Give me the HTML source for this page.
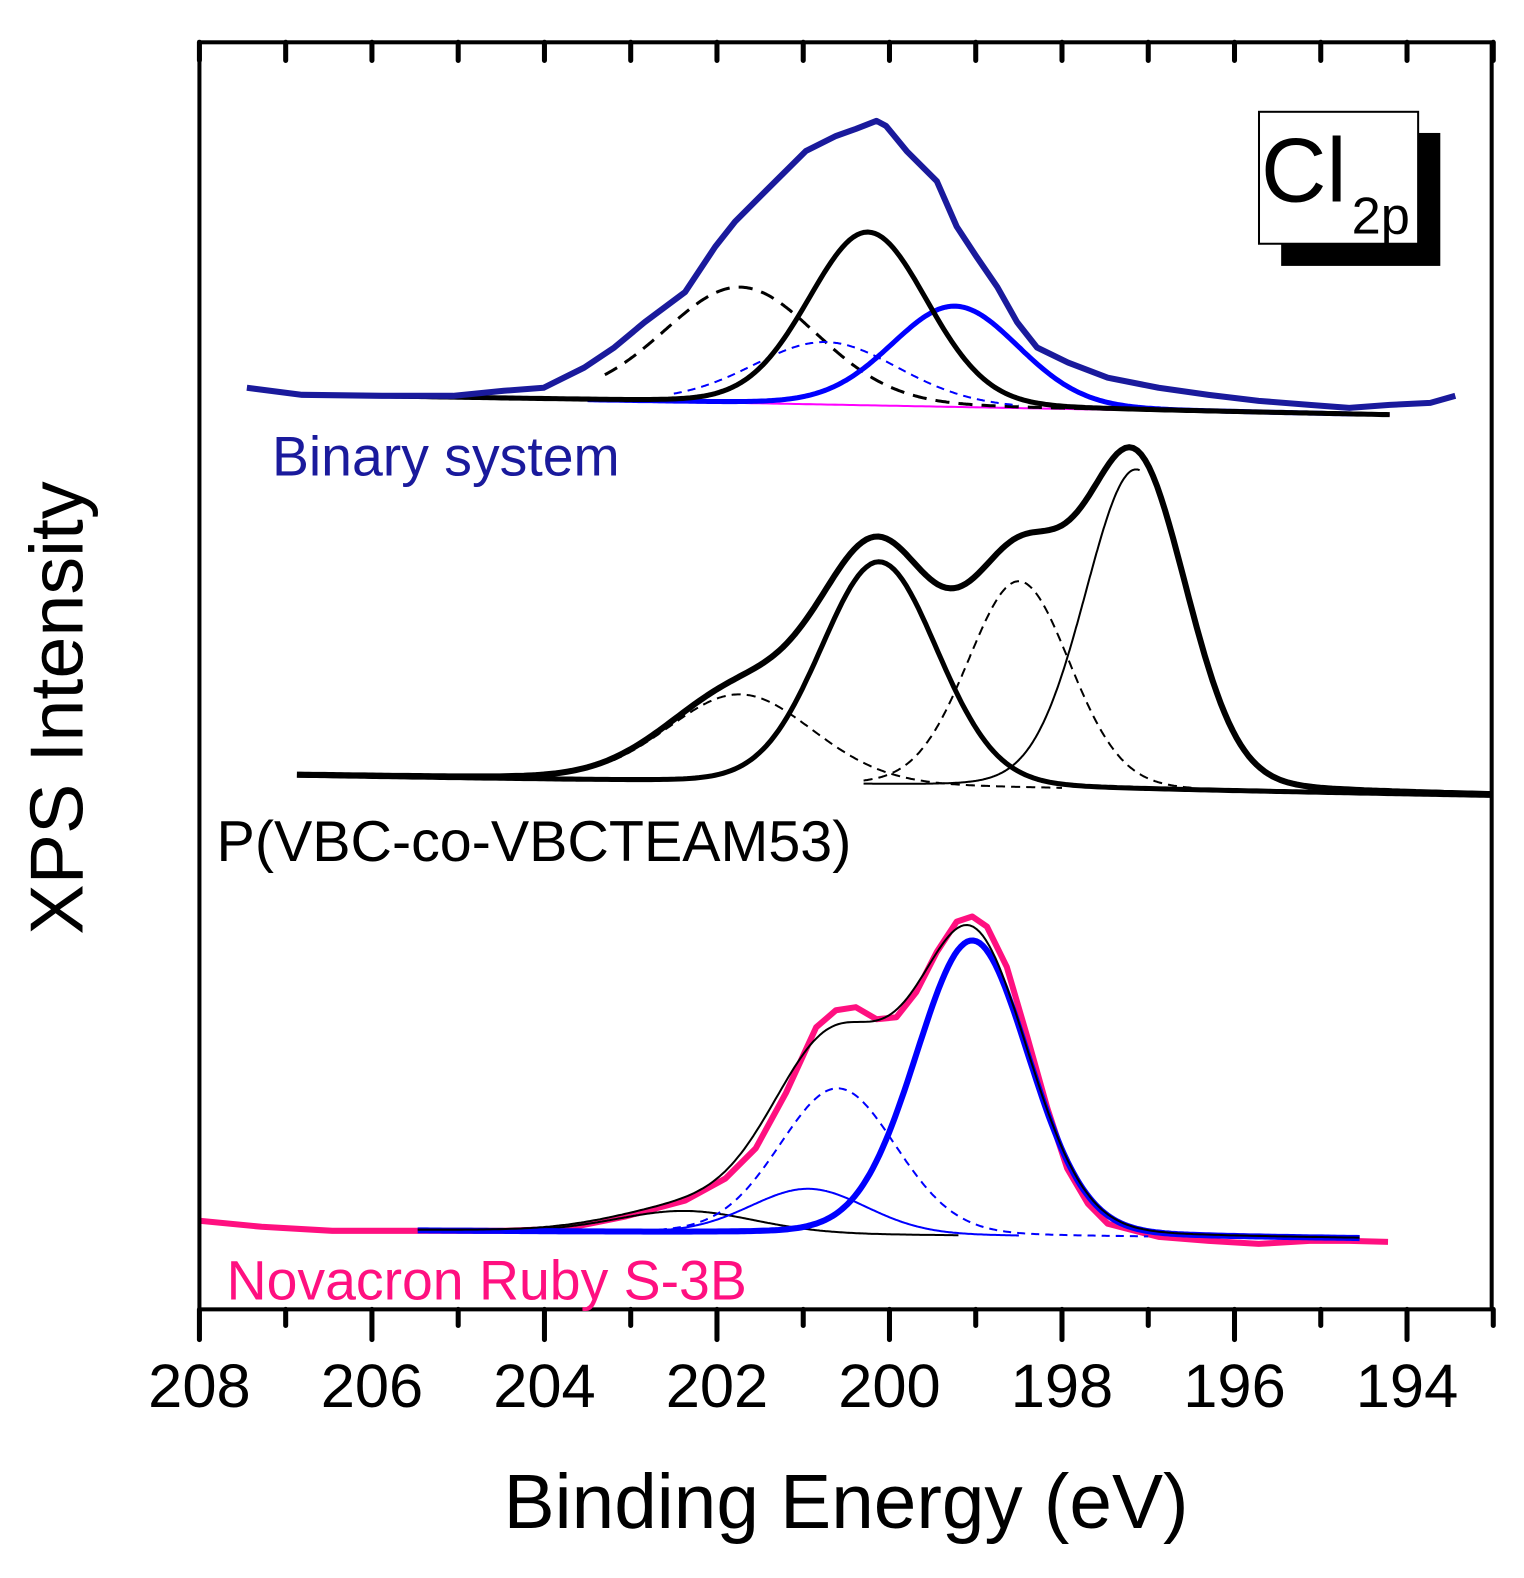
<!DOCTYPE html>
<html><head><meta charset="utf-8"><style>
html,body{margin:0;padding:0;background:#fff;overflow:hidden;width:1524px;height:1578px;}
svg{display:block;font-family:"Liberation Sans",sans-serif;}
</style></head><body>
<svg id="chart" width="1524" height="1578" viewBox="0 0 1524 1578">
<g transform="scale(1.0072)">
<g id="marks"></g>
<rect x="198" y="42" width="1283" height="1258" fill="none" stroke="#000" stroke-width="4"/>
<g id="ticks"></g>
<text x="840" y="1517" text-anchor="middle" font-size="76">Binding Energy (eV)</text>
<text transform="translate(82,703) rotate(-90)" text-anchor="middle" font-size="75">XPS Intensity</text>
<text x="270" y="472" font-size="55" fill="#1a1a9c">Binary system</text>
<text x="215" y="855" font-size="57" fill="#000">P(VBC-co-VBCTEAM53)</text>
<text x="225" y="1290" font-size="55" fill="#ff1080">Novacron Ruby S-3B</text>
<g>
<rect x="1272" y="132" width="158" height="132" fill="#000"/>
<rect x="1250" y="111" width="158" height="131" fill="#fff" stroke="#000" stroke-width="2"/>
<text x="1252" y="200" font-size="90">Cl</text>
<text x="1342" y="232" font-size="52">2p</text>
</g>
</g>
</svg>
<script>
const xTicks=[208,206,204,202,200,198,196,194];
const binE=[207.45,206.81,205.87,205.06,204.47,204.01,203.54,203.19,202.84,202.37,202.02,201.79,201.44,200.97,200.62,200.39,200.15,200.04,199.80,199.45,199.22,198.99,198.75,198.52,198.29,197.93,197.47,196.88,196.30,195.72,195.13,194.67,194.20,193.73,193.44];
const binI=[915,908,907,907,912,915,935,955,980,1010,1055,1080,1110,1150,1165,1172,1180,1175,1150,1120,1075,1045,1015,980,955,940,925,915,908,902,898,895,898,900,907];
const novE=[208.00,207.28,206.46,205.47,204.47,203.77,203.07,202.37,201.90,201.55,201.20,200.85,200.62,200.39,200.15,199.92,199.69,199.45,199.22,199.04,198.87,198.64,198.40,198.17,197.94,197.70,197.47,196.88,196.30,195.72,195.13,194.67,194.22];
const novI=[88,82,78,78,78,80,92,108,130,160,215,280,297,300,288,290,315,355,385,390,380,340,270,200,140,105,85,72,68,65,68,68,67];
// components: [center eV, height, FWHM eV]
const binComp=[[201.73,115,2.1],[200.25,172,1.63],[199.24,100,1.75],[200.74,62,2.0]];
const binBase=[206.81,908,194.20,888];
const midComp=[[201.73,88,2.0],[200.12,222,1.6],[198.50,205,1.4],[197.14,318,1.4]];
const midBase=[206.87,530,193.02,510];
const novComp=[[202.37,22,1.9],[200.94,45,1.6],[200.60,145,1.6],[199.04,293,1.55]];
const novBase=[205.47,78,194.55,70];

const X=e=>198+(208-e)*85.64;
const Y=i=>1300-i;
const NS="http://www.w3.org/2000/svg";
const marks=document.getElementById('marks');
function pv(e,c){const s=c[2]/2;const g=Math.exp(-Math.LN2*((e-c[0])/s)**2);const l=1/(1+((e-c[0])/s)**2);return c[1]*(0.9*g+0.1*l);}
function base(b,e){return b[1]+(b[3]-b[1])*(e-b[0])/(b[2]-b[0]);}
function path(d,color,w,dash,name){const p=document.createElementNS(NS,'path');p.setAttribute('d',d);p.setAttribute('fill','none');p.setAttribute('stroke',color);p.setAttribute('stroke-width',w);p.setAttribute('stroke-linejoin','round');if(dash)p.setAttribute('stroke-dasharray',dash);


marks.appendChild(p);}
function fn(f,e0,e1,color,w,dash,name){let d='';for(let k=0;k<=300;k++){const e=e0+(e1-e0)*k/300;d+=(k?'L':'M')+X(e).toFixed(1)+','+Y(f(e)).toFixed(1);}path(d,color,w,dash,name);}
function pts(E,I,color,w,name){let d='';E.forEach((e,k)=>{d+=(k?'L':'M')+X(e).toFixed(1)+','+Y(I[k]).toFixed(1);});path(d,color,w,null,name);}
fn(e=>base(binBase,e),binBase[0],binBase[2],'#ff00ff',2,null,'binary-baseline');
fn(e=>base(binBase,e)+pv(e,binComp[0]),203.3,197.5,'#000',3,'14,9','binary-peak-1');
fn(e=>base(binBase,e)+pv(e,binComp[3]),202.5,198.5,'#0000ff',2,'8,6','binary-peak-4');
fn(e=>base(binBase,e)+pv(e,binComp[2]),203.5,194.6,'#0000ff',5,null,'binary-peak-3');
fn(e=>base(binBase,e)+pv(e,binComp[1]),binBase[0],binBase[2],'#000',5,null,'binary-peak-2');
pts(binE,binI,'#1a1a9c',6,'binary-data');
fn(e=>base(midBase,e)+pv(e,midComp[0]),203.2,198.0,'#000',2,'9,6','pvbc-peak-1');
fn(e=>base(midBase,e)+pv(e,midComp[2]),200.3,196.5,'#000',2,'9,6','pvbc-peak-3');
fn(e=>base(midBase,e)+pv(e,midComp[3]),200.3,197.1,'#000',2,null,'pvbc-peak-4');
fn(e=>base(midBase,e)+pv(e,midComp[1]),206.87,193.02,'#000',5,null,'pvbc-peak-2');
fn(e=>base(midBase,e)+midComp.reduce((s,c)=>s+pv(e,c),0),midBase[0],midBase[2],'#000',6,null,'pvbc-envelope');
pts(novE,novI,'#ff1080',6,'novacron-data');
fn(e=>base(novBase,e)+pv(e,novComp[0]),204.5,199.2,'#000',2,null,'novacron-peak-1');
fn(e=>base(novBase,e)+pv(e,novComp[1]),203.0,198.5,'#0000ff',2,null,'novacron-peak-2');
fn(e=>base(novBase,e)+pv(e,novComp[2]),203.0,197.0,'#0000ff',2,'8,6','novacron-peak-3');
fn(e=>base(novBase,e)+pv(e,novComp[3]),novBase[0],novBase[2],'#0000ff',6,null,'novacron-peak-4');
fn(e=>base(novBase,e)+novComp.reduce((s,c)=>s+pv(e,c),0),novBase[0],novBase[2],'#000',2,null,'novacron-envelope');
const tg=document.getElementById('ticks');
for(let e=208;e>=193;e--){const major=e%2===0;const x=X(e);
[[1300,1300+(major?30:16)],[42,42+18]].forEach(([a,b])=>{const l=document.createElementNS(NS,'line');l.setAttribute('x1',x);l.setAttribute('x2',x);l.setAttribute('y1',a);l.setAttribute('y2',b);l.setAttribute('stroke','#000');l.setAttribute('stroke-width',5);l.setAttribute('stroke-linecap','round');


tg.appendChild(l);});}
xTicks.forEach(v=>{const t=document.createElementNS(NS,'text');t.setAttribute('x',X(v));t.setAttribute('y',1397);t.setAttribute('text-anchor','middle');t.setAttribute('font-size','61');t.textContent=v;


tg.appendChild(t);});
</script>
</body></html>
